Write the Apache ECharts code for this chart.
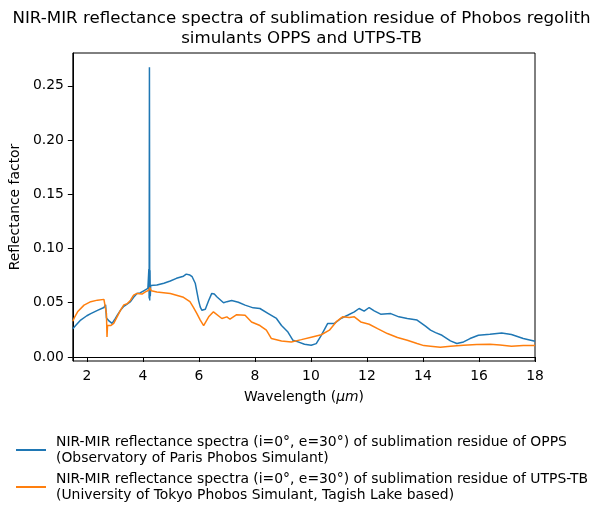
<!DOCTYPE html>
<html>
<head>
<meta charset="utf-8">
<script src="https://cdn.jsdelivr.net/npm/echarts@6/dist/echarts.min.js"></script>
<style>html,body{margin:0;padding:0;background:#fff;}#c{width:603px;height:518px;}</style>
</head>
<body>
<div id="c"></div>
<script>
// OPPS sublimation residue spectrum (blue)
const oppsX = [1.5, 1.6, 1.78, 2.0, 2.14, 2.38, 2.61, 2.67, 2.70, 2.75, 2.8, 2.9, 3.02, 3.1, 3.2, 3.32, 3.45, 3.56, 3.67, 3.79, 3.9, 4.03, 4.18, 4.2, 4.215, 4.225, 4.235, 4.245, 4.255, 4.265, 4.28, 4.5, 4.75, 4.98, 5.2, 5.45, 5.55, 5.68, 5.76, 5.87, 5.99, 6.05, 6.11, 6.23, 6.35, 6.46, 6.55, 6.64, 6.88, 7.0, 7.17, 7.41, 7.65, 7.94, 8.18, 8.48, 8.77, 8.95, 9.18, 9.36, 9.54, 9.77, 10.01, 10.19, 10.37, 10.6, 10.84, 11.07, 11.31, 11.55, 11.72, 11.9, 12.08, 12.26, 12.49, 12.85, 13.14, 13.44, 13.79, 14.09, 14.27, 14.45, 14.68, 14.98, 15.21, 15.45, 15.68, 15.98, 16.39, 16.81, 17.16, 17.58, 18.0];
const oppsY = [0.026, 0.029, 0.034, 0.038, 0.040, 0.043, 0.0456, 0.048, 0.036, 0.037, 0.033, 0.031, 0.0355, 0.039, 0.043, 0.0467, 0.049, 0.051, 0.055, 0.0586, 0.059, 0.061, 0.0633, 0.064, 0.081, 0.054, 0.267, 0.052, 0.080, 0.056, 0.066, 0.0663, 0.068, 0.070, 0.0725, 0.0745, 0.0764, 0.0755, 0.074, 0.068, 0.052, 0.046, 0.043, 0.044, 0.052, 0.0586, 0.058, 0.0555, 0.050, 0.051, 0.052, 0.0505, 0.0478, 0.0453, 0.0447, 0.040, 0.0355, 0.029, 0.023, 0.0154, 0.0139, 0.0117, 0.0108, 0.0123, 0.020, 0.0309, 0.0309, 0.0355, 0.0385, 0.0416, 0.0447, 0.0422, 0.0456, 0.0425, 0.0395, 0.040, 0.037, 0.0355, 0.034, 0.0284, 0.0247, 0.0225, 0.020, 0.0148, 0.0124, 0.0139, 0.017, 0.020, 0.021, 0.0222, 0.0207, 0.017, 0.0145];
// UTPS-TB sublimation residue spectrum (orange)
const utpsX = [1.5, 1.55, 1.67, 1.9, 2.14, 2.38, 2.61, 2.66, 2.70, 2.72, 2.74, 2.85, 2.96, 3.08, 3.2, 3.32, 3.44, 3.56, 3.67, 3.79, 3.97, 4.09, 4.21, 4.25, 4.3, 4.5, 4.98, 5.45, 5.68, 5.8, 5.93, 6.05, 6.17, 6.35, 6.52, 6.82, 7.0, 7.11, 7.35, 7.65, 7.88, 8.18, 8.41, 8.59, 8.95, 9.30, 9.66, 10.01, 10.37, 10.66, 10.9, 11.13, 11.37, 11.55, 11.78, 12.08, 12.38, 12.73, 13.09, 13.44, 13.79, 14.03, 14.27, 14.62, 14.98, 15.45, 15.92, 16.39, 16.75, 17.16, 17.58, 18.0];
const utpsY = [0.033, 0.036, 0.0416, 0.0478, 0.051, 0.0524, 0.0531, 0.052, 0.040, 0.0185, 0.029, 0.029, 0.031, 0.037, 0.043, 0.048, 0.049, 0.0524, 0.057, 0.0586, 0.058, 0.060, 0.0615, 0.064, 0.061, 0.060, 0.0586, 0.055, 0.051, 0.046, 0.040, 0.034, 0.029, 0.037, 0.0416, 0.0355, 0.037, 0.0348, 0.039, 0.0385, 0.0323, 0.029, 0.0247, 0.017, 0.0148, 0.0139, 0.016, 0.0182, 0.0205, 0.0247, 0.0323, 0.037, 0.0364, 0.037, 0.0323, 0.0302, 0.0262, 0.0216, 0.0179, 0.0154, 0.0124, 0.0105, 0.0099, 0.0089, 0.0099, 0.0108, 0.0114, 0.0117, 0.011, 0.0099, 0.0105, 0.0105];
const xTicks = [2, 4, 6, 8, 10, 12, 14, 16, 18];
const yTicks = [0, 0.05, 0.10, 0.15, 0.20, 0.25];
const seriesNames = [
  'NIR-MIR reflectance spectra (i=0°, e=30°) of sublimation residue of OPPS\n(Observatory of Paris Phobos Simulant)',
  'NIR-MIR reflectance spectra (i=0°, e=30°) of sublimation residue of UTPS-TB\n(University of Tokyo Phobos Simulant, Tagish Lake based)'
];

const zip = (xs, ys) => xs.map((x, i) => [x, ys[i]]);
const FONT = 'DejaVu Sans';
const chart = echarts.init(document.getElementById('c'), null, {renderer: 'canvas'});
chart.setOption({
  animation: false,
  backgroundColor: '#fff',
  color: ['#1f77b4', '#ff7f0e'],
  title: {
    text: 'NIR-MIR reflectance spectra of sublimation residue of Phobos regolith\nsimulants OPPS and UTPS-TB',
    left: 'center',
    top: 8,
    padding: 0,
    textStyle: {fontFamily: FONT, fontSize: 16.67, fontWeight: 'normal', color: '#000', lineHeight: 20.5}
  },
  grid: {left: 70, right: 68, top: 53, bottom: 157, show: true, borderColor: '#000', borderWidth: 1, backgroundColor: 'transparent'},
  legend: {
    orient: 'vertical',
    left: 16,
    top: 434,
    padding: 0,
    itemGap: 5,
    itemWidth: 30,
    itemHeight: 2,
    icon: 'rect',
    textStyle: {fontFamily: FONT, fontSize: 13.9, color: '#000', lineHeight: 16, padding: [0, 0, 0, 5]},
    data: seriesNames
  },
  xAxis: {
    type: 'value',
    min: 1.5, max: 18,
    name: 'Wavelength ({i|μm})',
    nameLocation: 'middle',
    nameGap: 29,
    nameTextStyle: {fontFamily: FONT, fontSize: 13.9, color: '#000', rich: {i: {fontFamily: FONT, fontSize: 13.9, fontStyle: 'italic', color: '#000'}}},
    axisLine: {show: true, lineStyle: {color: '#000', width: 1}},
    axisTick: {show: true, length: 5, lineStyle: {color: '#000'}, customValues: xTicks},
    axisLabel: {fontFamily: FONT, fontSize: 13.9, color: '#000', margin: 8, customValues: xTicks, formatter: v => String(v)},
    splitLine: {show: false}
  },
  yAxis: {
    type: 'value',
    min: -0.0037, max: 0.2802,
    name: 'Reflectance factor',
    nameLocation: 'middle',
    nameGap: 48,
    nameTextStyle: {fontFamily: FONT, fontSize: 13.9, color: '#000'},
    axisLine: {show: true, lineStyle: {color: '#000', width: 1}},
    axisTick: {show: true, length: 5, lineStyle: {color: '#000'}, customValues: yTicks},
    axisLabel: {fontFamily: FONT, fontSize: 13.9, color: '#000', margin: 9, customValues: yTicks, formatter: v => v.toFixed(2)},
    splitLine: {show: false}
  },
  series: [
    {name: seriesNames[0], type: 'line', data: zip(oppsX, oppsY), showSymbol: false, symbol: 'none', lineStyle: {width: 1.5}, clip: true},
    {name: seriesNames[1], type: 'line', data: zip(utpsX, utpsY), showSymbol: false, symbol: 'none', lineStyle: {width: 1.5}, clip: true}
  ]
});
</script>
</body>
</html>
